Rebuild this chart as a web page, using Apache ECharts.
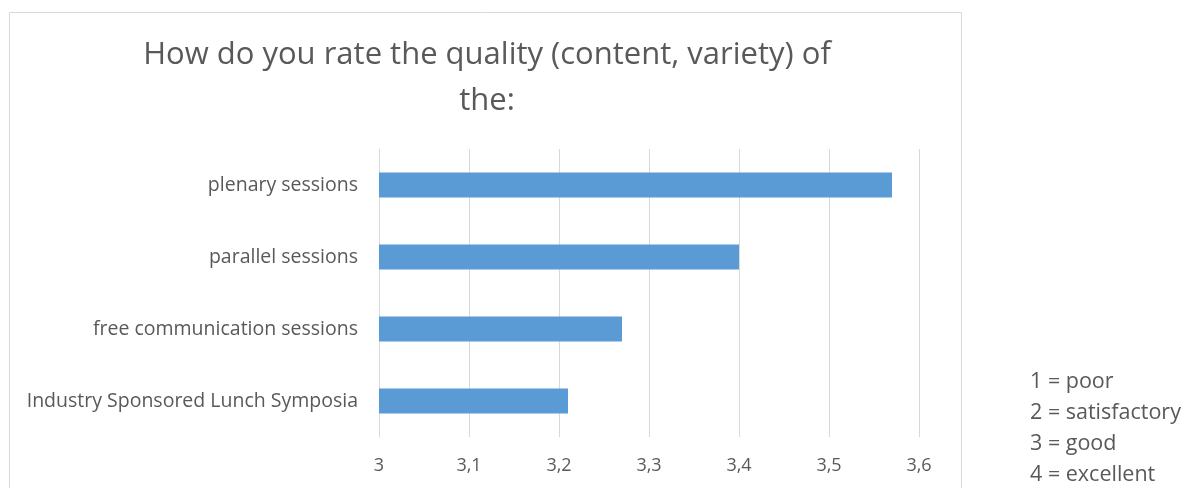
<!DOCTYPE html>
<html><head><meta charset="utf-8">
<script src="https://cdn.jsdelivr.net/npm/echarts@6/dist/echarts.min.js"></script>
<style>html,body{margin:0;padding:0;background:#fff}#c{width:1196px;height:488px}</style>
</head><body><div id="c"></div>
<script>
const categories = ['Industry Sponsored Lunch Symposia','free communication sessions','parallel sessions','plenary sessions'];
const values = [3.21, 3.27, 3.40, 3.57];
const titleText = 'How do you rate the quality (content, variety) of\nthe:';
const scaleNotes = ['1 = poor','2 = satisfactory','3 = good','4 = excellent'];
const FONT = 'Open Sans';
const chart = echarts.init(document.getElementById('c'));
chart.setOption({
  animation:false,
  title:{text:titleText,left:482,top:27,textAlign:'center',
    textStyle:{fontFamily:FONT,fontSize:31,fontWeight:'normal',color:'#595959',lineHeight:46}},
  grid:{left:379,right:277,top:149,bottom:51,containLabel:false},
  xAxis:{type:'value',min:3,max:3.6,interval:0.1,
    axisLine:{show:false},axisTick:{show:false},
    splitLine:{lineStyle:{color:'#D9D9D9',width:1}},
    axisLabel:{margin:20,fontFamily:FONT,fontSize:18,color:'#595959',
      formatter:v=>String(Math.round(v*10)/10).replace('.',',')}},
  yAxis:{type:'category',data:categories,
    axisLine:{show:true,lineStyle:{color:'#D9D9D9'}},axisTick:{show:false},
    axisLabel:{margin:21,fontFamily:FONT,fontSize:19.5,color:'#595959'}},
  series:[{type:'bar',data:values,barWidth:25,itemStyle:{color:'#5B9BD5'}}],
  graphic:[
    {type:'rect',shape:{x:9.5,y:12.5,width:952,height:500},style:{fill:'none',stroke:'#D9D9D9',lineWidth:1},z:-1},
    {type:'text',left:1030,top:366,style:{text:scaleNotes.join('\n'),fontFamily:FONT,fontSize:21.5,lineHeight:31,fill:'#595959'}}
  ]
});
</script></body></html>
